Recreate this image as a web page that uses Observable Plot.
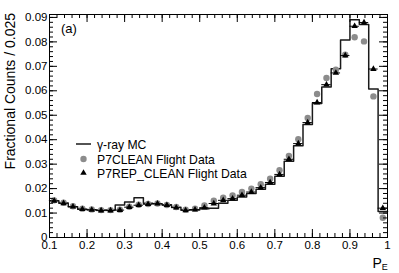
<!DOCTYPE html>
<html><head><meta charset="utf-8">
<script src="https://cdn.jsdelivr.net/npm/d3@7"></script>
<script src="https://cdn.jsdelivr.net/npm/@observablehq/plot@0.6"></script>
<style>
body{margin:0;background:#fff;}
#chart{width:399px;height:273px;}
svg{font-family:"Liberation Sans",Arial,sans-serif;}
</style></head><body><div id="chart"></div>
<script>
// bin lower edges (width 0.025)
const binStart = [0.100,0.125,0.150,0.175,0.200,0.225,0.250,0.275,0.300,0.325,0.350,0.375,
  0.400,0.425,0.450,0.475,0.500,0.525,0.550,0.575,0.600,0.625,0.650,0.675,
  0.700,0.725,0.750,0.775,0.800,0.825,0.850,0.875,0.900,0.925,0.950,0.975];
const binWidth = 0.025;
const mcValues = [0.0150,0.0141,0.0126,0.0116,0.0113,0.0112,0.0112,0.0133,0.0145,0.0163,0.0140,0.0138,
  0.0134,0.0124,0.0113,0.0112,0.0118,0.0120,0.0140,0.0152,0.0166,0.0180,0.0197,0.0218,
  0.0250,0.0312,0.0375,0.0462,0.0548,0.0615,0.0690,0.0808,0.0891,0.0871,0.0607,0.0106];
const p7cleanValues = [0.0152,0.0142,0.0128,0.0118,0.0115,0.0112,0.0112,0.0114,0.0126,0.0134,0.0137,0.0139,
  0.0133,0.0125,0.0114,0.0118,0.0131,0.0150,0.0163,0.0172,0.0186,0.0200,0.0218,0.0240,
  0.0275,0.0334,0.0402,0.0489,0.0587,0.0652,0.0686,0.0748,0.0819,0.0802,0.0577,0.0081];
const p7repValues = [0.0150,0.0140,0.0126,0.0116,0.0113,0.0110,0.0110,0.0112,0.0124,0.0132,0.0136,0.0138,
  0.0132,0.0122,0.0111,0.0114,0.0122,0.0139,0.0152,0.0159,0.0173,0.0186,0.0204,0.0225,
  0.0258,0.0320,0.0384,0.0470,0.0552,0.0625,0.0673,0.0744,0.0864,0.0879,0.0689,0.0120];
const xTickLabels = [0.1,0.2,0.3,0.4,0.5,0.6,0.7,0.8,0.9,1];
const yTickLabels = [0,0.01,0.02,0.03,0.04,0.05,0.06,0.07,0.08,0.09];
const seriesNames = ["\u03b3-ray MC","P7CLEAN Flight Data","P7REP_CLEAN Flight Data"];
const yTitle = "Fractional Counts / 0.025";
const panelLabel = "(a)";

const W = 399, H = 273, mL = 49, mR = 12, mT = 14, mB = 36;
const innerW = W - mL - mR, innerH = H - mT - mB;

const bins = binStart.map((s, i) => ({
  x1: s, x2: s + binWidth, xc: s + binWidth / 2,
  mc: mcValues[i], clean: p7cleanValues[i], rep: p7repValues[i]
}));
const mcStep = binStart.map((s, i) => ({x: s, y: mcValues[i]}))
  .concat([{x: binStart[binStart.length - 1] + binWidth, y: mcValues[mcValues.length - 1]}]);

const xMinor = d3.range(10, 101, 2).map(d => d / 100);
const yMinor = d3.range(0, 92, 2).map(d => d / 1000);

const plot = Plot.plot({
  width: W, height: H,
  marginLeft: mL, marginRight: mR, marginTop: mT, marginBottom: mB,
  x: {domain: [0.1, 1]},
  y: {domain: [0, 0.0912]},
  style: {fontFamily: '"Liberation Sans", Arial, sans-serif', background: "white"},
  marks: [
    Plot.line(mcStep, {x: "x", y: "y", curve: "step-after", stroke: "#1a1a1a", strokeWidth: 1.5}),
    Plot.dot(bins, {x: "xc", y: "clean", r: 3.2, fill: "#8c8c8c", stroke: "none"}),
    Plot.ruleY(bins, {y: "rep", x1: "x1", x2: "x2", stroke: "black", strokeWidth: 1}),
    Plot.dot(bins, {x: "xc", y: "rep", symbol: "triangle", r: 2.4, fill: "black", stroke: "none"}),
    // inward ticks
    Plot.tickY(yTickLabels, {y: d => d, insetRight: innerW - 8, stroke: "black"}),
    Plot.tickY(yTickLabels, {y: d => d, insetLeft: innerW - 8, stroke: "black"}),
    Plot.tickY(yMinor, {y: d => d, insetRight: innerW - 4, stroke: "black"}),
    Plot.tickY(yMinor, {y: d => d, insetLeft: innerW - 4, stroke: "black"}),
    Plot.tickX(xTickLabels, {x: d => d, insetTop: innerH - 8, stroke: "black"}),
    Plot.tickX(xTickLabels, {x: d => d, insetBottom: innerH - 8, stroke: "black"}),
    Plot.tickX(xMinor, {x: d => d, insetTop: innerH - 4, stroke: "black"}),
    Plot.tickX(xMinor, {x: d => d, insetBottom: innerH - 4, stroke: "black"}),
    Plot.axisX(xTickLabels, {tickSize: 0, tickPadding: 3, fontSize: 11.5, tickFormat: d => String(d), label: null, fill: "black"}),
    Plot.axisY(yTickLabels, {tickSize: 0, tickPadding: 2, fontSize: 11.5, tickFormat: d => String(d), label: null, fill: "black"}),
    Plot.frame({stroke: "black", strokeWidth: 1})
  ]
});
document.getElementById("chart").appendChild(plot);

const svg = d3.select(plot);
const font = '"Liberation Sans", Arial, sans-serif';
// y title
svg.append("text").attr("transform", "translate(15,13) rotate(-90)")
  .attr("text-anchor", "end").attr("font-size", 14).attr("font-family", font).attr("fill", "black").text(yTitle);
// panel label
svg.append("text").attr("x", 61).attr("y", 33).attr("text-anchor", "start").attr("font-size", 13).attr("font-family", font).attr("fill", "black").text(panelLabel);
// legend
const lg = svg.append("g").attr("font-size", 12.2).attr("font-family", font).attr("fill", "black").attr("text-anchor", "start");
lg.append("line").attr("x1", 76).attr("x2", 91).attr("y1", 144).attr("y2", 144).attr("stroke", "#1a1a1a").attr("stroke-width", 1.5);
lg.append("text").attr("x", 97).attr("y", 148.5).text(seriesNames[0]);
lg.append("circle").attr("cx", 83.5).attr("cy", 159).attr("r", 3.2).attr("fill", "#8c8c8c");
lg.append("text").attr("x", 97).attr("y", 163.5).text(seriesNames[1]);
lg.append("path").attr("transform", "translate(83.5,173)").attr("d", d3.symbol(d3.symbolTriangle, 18)()).attr("fill", "black");
lg.append("text").attr("x", 97).attr("y", 177.5).text(seriesNames[2]);
// x title P_E
const xt = svg.append("text").attr("font-family", font).attr("fill", "black").attr("y", 268).attr("text-anchor", "start");
xt.append("tspan").attr("x", 372.5).attr("font-size", 14).text("P");
xt.append("tspan").attr("font-size", 9).attr("dy", 2).text("E");
</script></body></html>
